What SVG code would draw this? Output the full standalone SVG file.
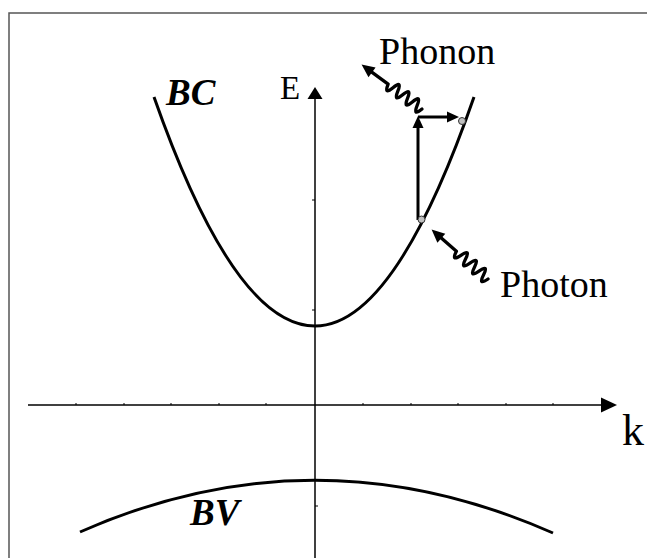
<svg xmlns="http://www.w3.org/2000/svg" width="647" height="558" viewBox="0 0 647 558">
<defs>
<style>
.axis{stroke:#000;stroke-width:1.5;fill:none}
.band{stroke:#000;stroke-width:3;fill:none}
.thick{stroke:#000;stroke-width:3;fill:none}
.wave{stroke:#000;stroke-width:3.3;fill:none;stroke-linejoin:round;stroke-linecap:round}
.head{fill:#000;stroke:none}
.tick{stroke:#000;stroke-width:1}
.lbl{font-family:"Liberation Serif","Times New Roman",serif;fill:#000}
.bi{font-family:"Liberation Serif","Times New Roman",serif;font-weight:bold;font-style:italic;fill:#000}
.dot{fill:#c0c0c0;stroke:#333;stroke-width:1}
</style>
</defs>
<rect x="9" y="13" width="700" height="600" fill="#fff" stroke="#555" stroke-width="1.5"/>
<g id="axes">
<line class="axis" x1="315" y1="96" x2="315" y2="558"/>
<polygon class="head" points="315,87 307.5,99 322.5,99"/>
<line class="axis" x1="28" y1="405" x2="603" y2="405"/>
<polygon class="head" points="617,405 601,397.5 601,412.5"/>
<g class="tick">
<line x1="76" y1="403" x2="76" y2="405"/><line x1="124" y1="403" x2="124" y2="405"/><line x1="171" y1="403" x2="171" y2="405"/><line x1="219" y1="403" x2="219" y2="405"/><line x1="266" y1="403" x2="266" y2="405"/><line x1="363" y1="403" x2="363" y2="405"/><line x1="411" y1="403" x2="411" y2="405"/><line x1="458" y1="403" x2="458" y2="405"/><line x1="506" y1="403" x2="506" y2="405"/><line x1="553" y1="403" x2="553" y2="405"/>
<line x1="312" y1="200" x2="315" y2="200"/><line x1="312" y1="310" x2="315" y2="310"/><line x1="315" y1="506" x2="318" y2="506"/>
</g>
<text class="lbl" x="280" y="99" font-size="33">E</text>
<text class="lbl" x="622" y="445" font-size="44">k</text>
</g>
<g id="BC">
<path class="band" d="M154,97 Q234.5,326 315,326 Q394.5,326 474,97"/>
<text class="bi" x="166" y="105" font-size="37">BC</text>
</g>
<g id="BV">
<path class="band" d="M80,532 Q315,428 553,533"/>
<text class="bi" x="190" y="525" font-size="37">BV</text>
</g>
<g id="transitions">
<line class="thick" x1="418" y1="220" x2="418" y2="126"/>
<polygon class="head" points="418,116 412.5,128 423.5,128"/>
<line class="thick" x1="418" y1="117" x2="450" y2="117"/>
<polygon class="head" points="459,117 447,111.5 447,122.5"/>
<circle class="dot" cx="421.5" cy="219.5" r="3.5"/>
<circle class="dot" cx="462" cy="121" r="3.5"/>
</g>
<g id="phonon" transform="translate(422,109) rotate(216.3)">
<path class="wave" d="M0,0 q3,-12 6,0 t6,0 t6,0 t6,0 t6,0 t6,0 t6,0 L64,0"/>
<polygon class="head" points="75,0 62,-6 62,6"/>
</g>
<text class="lbl" x="379" y="64" font-size="38">Phonon</text>
<g id="photon" transform="translate(488,279) rotate(221.2)">
<path class="wave" d="M0,0 q3,-12 6,0 t6,0 t6,0 t6,0 t6,0 t6,0 t6,0 L64,0"/>
<polygon class="head" points="75,0 62,-6 62,6"/>
</g>
<text class="lbl" x="500" y="297" font-size="38">Photon</text>
</svg>
